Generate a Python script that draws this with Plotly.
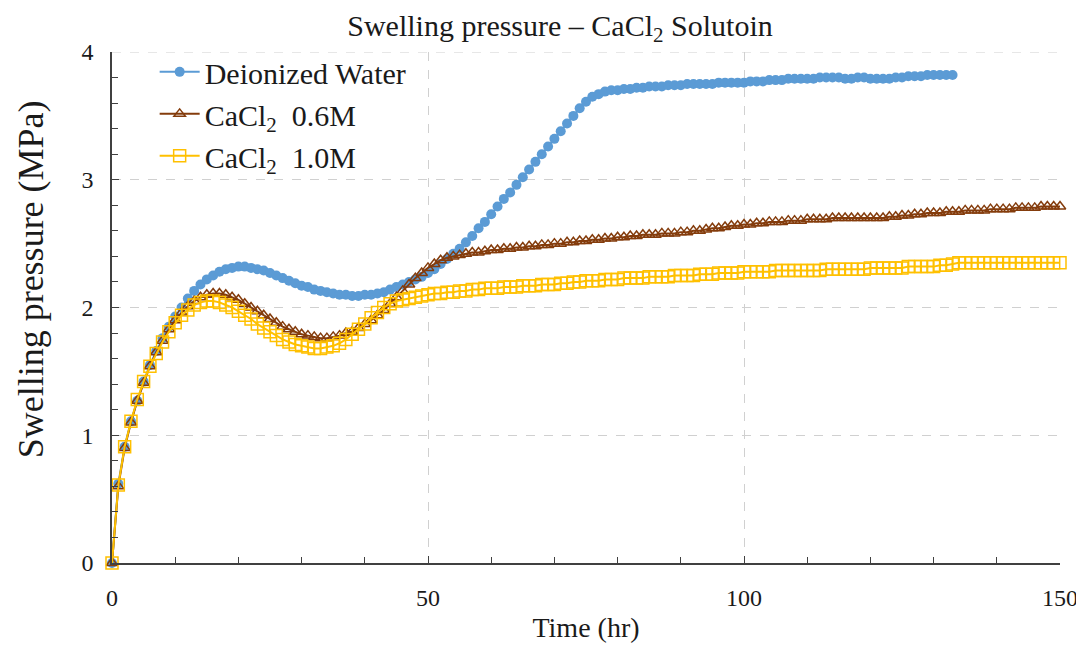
import plotly.graph_objects as go

# sampling times (hr)
time_water = list(range(0, 134))
time_salt = list(range(0, 151))

# swelling pressure (MPa)
water = [0.00, 0.62, 0.91, 1.11, 1.27, 1.42, 1.55, 1.66, 1.76, 1.85,
         1.93, 2.00, 2.07, 2.13, 2.18, 2.22, 2.25, 2.28, 2.30, 2.31,
         2.32, 2.32, 2.31, 2.30, 2.29, 2.27, 2.25, 2.23, 2.21, 2.19,
         2.17, 2.16, 2.14, 2.13, 2.12, 2.11, 2.10, 2.10, 2.09, 2.09,
         2.10, 2.10, 2.11, 2.12, 2.14, 2.16, 2.18, 2.20, 2.22, 2.24,
         2.27, 2.30, 2.34, 2.38, 2.42, 2.46, 2.51, 2.56, 2.62, 2.67,
         2.73, 2.79, 2.85, 2.90, 2.96, 3.02, 3.08, 3.14, 3.20, 3.26,
         3.32, 3.38, 3.44, 3.50, 3.56, 3.61, 3.65, 3.67, 3.69, 3.70,
         3.70, 3.71, 3.71, 3.72, 3.72, 3.73, 3.73, 3.73, 3.74, 3.74,
         3.74, 3.75, 3.75, 3.75, 3.75, 3.75, 3.76, 3.76, 3.76, 3.76,
         3.76, 3.77, 3.77, 3.77, 3.78, 3.78, 3.78, 3.79, 3.79, 3.79,
         3.79, 3.79, 3.80, 3.80, 3.80, 3.80, 3.79, 3.79, 3.80, 3.80,
         3.79, 3.79, 3.79, 3.79, 3.80, 3.80, 3.81, 3.81, 3.81, 3.82,
         3.82, 3.82, 3.82, 3.82]

cacl2_06 = [0.00, 0.60, 0.90, 1.10, 1.27, 1.41, 1.54, 1.65, 1.74, 1.83,
            1.90, 1.96, 2.01, 2.05, 2.08, 2.10, 2.11, 2.11, 2.10, 2.08,
            2.06, 2.03, 2.00, 1.97, 1.94, 1.91, 1.88, 1.85, 1.83, 1.81,
            1.79, 1.78, 1.77, 1.76, 1.76, 1.77, 1.78, 1.80, 1.81, 1.84,
            1.87, 1.90, 1.94, 1.98, 2.03, 2.08, 2.13, 2.18, 2.23, 2.27,
            2.31, 2.34, 2.37, 2.39, 2.40, 2.41, 2.42, 2.43, 2.43, 2.44,
            2.45, 2.45, 2.46, 2.46, 2.47, 2.47, 2.48, 2.48, 2.49, 2.49,
            2.50, 2.50, 2.51, 2.51, 2.52, 2.52, 2.53, 2.53, 2.54, 2.54,
            2.55, 2.55, 2.56, 2.56, 2.57, 2.57, 2.57, 2.58, 2.58, 2.58,
            2.59, 2.59, 2.60, 2.60, 2.61, 2.62, 2.62, 2.63, 2.64, 2.64,
            2.65, 2.65, 2.66, 2.66, 2.67, 2.67, 2.67, 2.68, 2.68, 2.68,
            2.69, 2.69, 2.69, 2.69, 2.70, 2.70, 2.70, 2.70, 2.70, 2.70,
            2.70, 2.70, 2.70, 2.71, 2.71, 2.72, 2.72, 2.73, 2.73, 2.74,
            2.74, 2.74, 2.75, 2.75, 2.75, 2.76, 2.76, 2.76, 2.76, 2.77,
            2.77, 2.77, 2.77, 2.78, 2.78, 2.78, 2.78, 2.79, 2.79, 2.79,
            2.79]

cacl2_10 = [0.00, 0.61, 0.91, 1.11, 1.28, 1.42, 1.54, 1.64, 1.73, 1.81,
            1.88, 1.94, 1.98, 2.02, 2.04, 2.05, 2.05, 2.04, 2.02, 2.00,
            1.97, 1.94, 1.91, 1.87, 1.84, 1.81, 1.78, 1.75, 1.73, 1.71,
            1.70, 1.69, 1.68, 1.68, 1.69, 1.70, 1.72, 1.75, 1.79, 1.83,
            1.87, 1.92, 1.96, 2.00, 2.03, 2.05, 2.06, 2.07, 2.08, 2.09,
            2.10, 2.11, 2.11, 2.12, 2.12, 2.13, 2.13, 2.14, 2.14, 2.15,
            2.15, 2.15, 2.16, 2.16, 2.16, 2.17, 2.17, 2.17, 2.18, 2.18,
            2.18, 2.19, 2.19, 2.20, 2.20, 2.21, 2.21, 2.21, 2.22, 2.22,
            2.22, 2.23, 2.23, 2.23, 2.23, 2.24, 2.24, 2.24, 2.24, 2.25,
            2.25, 2.25, 2.25, 2.26, 2.26, 2.26, 2.27, 2.27, 2.27, 2.27,
            2.28, 2.28, 2.28, 2.28, 2.28, 2.29, 2.29, 2.29, 2.29, 2.29,
            2.29, 2.29, 2.29, 2.30, 2.30, 2.30, 2.30, 2.30, 2.30, 2.30,
            2.31, 2.31, 2.31, 2.31, 2.31, 2.31, 2.32, 2.32, 2.32, 2.32,
            2.32, 2.33, 2.33, 2.34, 2.35, 2.35, 2.35, 2.35, 2.35, 2.35,
            2.35, 2.35, 2.35, 2.35, 2.35, 2.35, 2.35, 2.35, 2.35, 2.35,
            2.35]

FONT = "Liberation Serif, Times New Roman, serif"
GRID = "#D0D0D0"
AXIS = "#404040"

fig = go.Figure()
fig.add_trace(go.Scatter(x=time_water, y=water, mode="lines+markers",
                         name="Deionized Water", cliponaxis=False,
                         line=dict(color="#5B9BD5", width=2),
                         marker=dict(symbol="circle", size=10, color="#5B9BD5")))
fig.add_trace(go.Scatter(x=time_salt, y=cacl2_06, mode="lines+markers",
                         name="CaCl<sub>2</sub>  0.6M", cliponaxis=False,
                         line=dict(color="#843C0C", width=2),
                         marker=dict(symbol="triangle-up-open", size=10, color="#843C0C",
                                     line=dict(width=1.5))))
fig.add_trace(go.Scatter(x=time_salt, y=cacl2_10, mode="lines+markers",
                         name="CaCl<sub>2</sub>  1.0M", cliponaxis=False,
                         line=dict(color="#FFC000", width=2),
                         marker=dict(symbol="square-open", size=12, color="#FFC000",
                                     line=dict(width=1.5))))

fig.update_layout(
    width=1076, height=650,
    paper_bgcolor="white", plot_bgcolor="white",
    font=dict(family=FONT, size=28, color="#1a1a1a"),
    margin=dict(l=104, r=24, t=44, b=95, autoexpand=False),
    title=dict(text="Swelling pressure – CaCl<sub>2</sub> Solutoin",
               x=0.513, xanchor="center", y=0.99, yanchor="top",
               font=dict(family=FONT, size=30)),
    legend=dict(x=0.045, y=1.012, xanchor="left", yanchor="top",
                bgcolor="rgba(255,255,255,0)", font=dict(family=FONT, size=30),
                itemwidth=40),
    showlegend=True,
    shapes=[dict(type="line", xref="paper", yref="y", x0=0, x1=1, y0=4, y1=4,
                 line=dict(color=GRID, width=1, dash="dash"), layer="below")],
    annotations=[dict(text="Swelling pressure (MPa)", textangle=-90,
                      xref="paper", yref="paper", x=-0.086, y=0.556,
                      xanchor="center", yanchor="middle", showarrow=False,
                      font=dict(family=FONT, size=36))],
)
fig.update_xaxes(
    range=[0, 150], dtick=50, tick0=0,
    showgrid=True, gridcolor=GRID, griddash="dash", gridwidth=1,
    showline=True, linecolor=AXIS, linewidth=1.5, zeroline=False,
    ticks="inside", ticklen=7, tickcolor=AXIS,
    minor=dict(dtick=10, ticks="inside", ticklen=6, tickcolor=AXIS, showgrid=False),
    ticklabelstandoff=12, ticklabeloverflow="allow",
    title=dict(text="Time (hr)", font=dict(family=FONT, size=28), standoff=8),
    tickfont=dict(family=FONT, size=24),
)
fig.update_yaxes(
    range=[0, 4], dtick=1, tick0=0,
    showgrid=True, gridcolor=GRID, griddash="dash", gridwidth=1,
    showline=True, linecolor=AXIS, linewidth=1.5, zeroline=False,
    ticks="inside", ticklen=7, tickcolor=AXIS,
    minor=dict(dtick=0.2, ticks="inside", ticklen=6, tickcolor=AXIS, showgrid=False),
    ticklabelstandoff=12,
    tickfont=dict(family=FONT, size=24),
)

fig.write_html("out.html")
